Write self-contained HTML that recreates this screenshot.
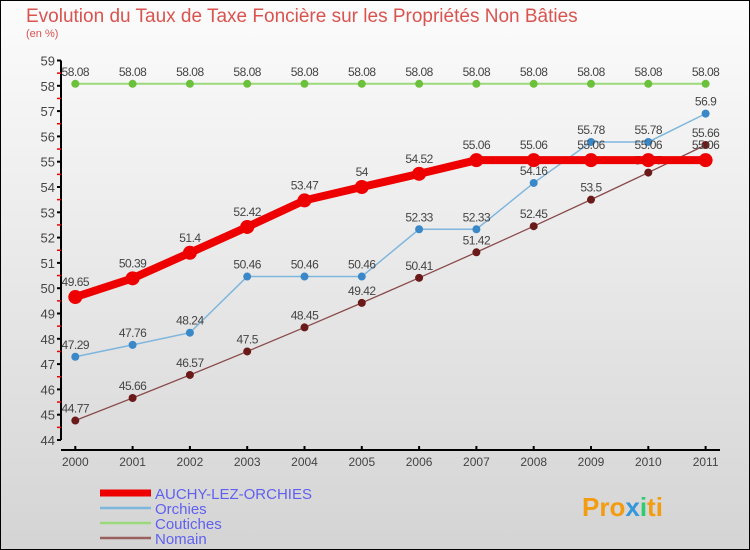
<!DOCTYPE html>
<html><head><meta charset="utf-8"><style>
body{margin:0;width:750px;height:550px;overflow:hidden}
svg{display:block;font-family:"Liberation Sans",sans-serif}
</style></head><body>
<svg id="c" width="750" height="550" xmlns="http://www.w3.org/2000/svg">
<defs><linearGradient id="bg" x1="0" y1="0" x2="0" y2="1"><stop offset="0" stop-color="#fcfcfc"/><stop offset="1" stop-color="#d4d4d4"/></linearGradient></defs>
<rect x="0.5" y="0.5" width="749" height="549" fill="url(#bg)" stroke="#000"/>
<text x="26" y="22" font-size="19" fill="#d9534f">Evolution du Taux de Taxe Foncière sur les Propriétés Non Bâties</text>
<text x="26" y="37" font-size="11" fill="#d9534f">(en %)</text>
<g id="axes"></g><g id="series"></g><g id="legend"></g>
<text x="582" y="516" font-size="26" font-weight="bold" fill="#f39c12">Pro<tspan fill="#3498db">x</tspan><tspan fill="#2ecc71">i</tspan>ti</text>
</svg>
<script>
const years=[2000,2001,2002,2003,2004,2005,2006,2007,2008,2009,2010,2011];
const auchy=[49.65,50.39,51.4,52.42,53.47,54,54.52,55.06,55.06,55.06,55.06,55.06];
const orchies=[47.29,47.76,48.24,50.46,50.46,50.46,52.33,52.33,54.16,55.78,55.78,56.9];
const coutiches=[58.08,58.08,58.08,58.08,58.08,58.08,58.08,58.08,58.08,58.08,58.08,58.08];
const nomain=[44.77,45.66,46.57,47.5,48.45,49.42,50.41,51.42,52.45,53.5,54.57,55.66];
const yTicks=[44,45,46,47,48,49,50,51,52,53,54,55,56,57,58,59];
const NS="http://www.w3.org/2000/svg";
const X=i=>75.3+i*57.3;
const Y=v=>440-(v-44)*25.3;
function mk(t,a,p){const e=document.createElementNS(NS,t);for(const k in a)e.setAttribute(k,a[k]);p.appendChild(e);return e;}
const ax=document.getElementById('axes');
let l=mk('line',{x1:61,y1:Y(59),x2:61,y2:Y(44),stroke:'#000','stroke-width':2},ax);


yTicks.forEach(v=>{
  mk('line',{x1:57,y1:Y(v),x2:61,y2:Y(v),stroke:'#000','stroke-width':2},ax);
  if(v<59)mk('line',{x1:57,y1:Y(v+0.5),x2:61,y2:Y(v+0.5),stroke:'#e00','stroke-width':1.5},ax);
  const t=mk('text',{x:55,y:Y(v)+5,'font-size':13,fill:'#444','text-anchor':'end'},ax);
  t.textContent=v;
  
  
});
l=mk('line',{x1:61,y1:450,x2:720,y2:450,stroke:'#000','stroke-width':2},ax);


years.forEach((yr,i)=>{
  mk('line',{x1:X(i),y1:446,x2:X(i),y2:450,stroke:'#000','stroke-width':2},ax);
  const t=mk('text',{x:X(i),y:466,'font-size':12,fill:'#444','text-anchor':'middle'},ax);
  t.textContent=yr;
  
  
});
const sg=document.getElementById('series');
function series(name,data,color,w,r,dot){
  const g=mk('g',{},sg);
  
  
  mk('polyline',{points:data.map((v,i)=>X(i)+','+Y(v)).join(' '),fill:'none',stroke:color,'stroke-width':w},g);
  data.forEach((v,i)=>{
    const c=mk('circle',{cx:X(i),cy:Y(v),r:r,fill:dot},g);
    
    
    const t=mk('text',{x:X(i),y:Y(v)-r-4,'font-size':12,fill:'#444','text-anchor':'middle','letter-spacing':'-0.5'},g);
    t.textContent=v;
    
    
  });
}
series('coutiches',coutiches,'#9cd97a',2,4,'#6cc13c');
series('nomain',nomain,'#8a4a4a',1.3,4,'#6b1a1a');
series('orchies',orchies,'#7fb6dd',1.5,4,'#3a88c8');
series('auchy',auchy,'#ee0000',8,7,'#ee0000');
const lg=document.getElementById('legend');
const names=['AUCHY-LEZ-ORCHIES','Orchies','Coutiches','Nomain'];
const cols=['#ee0000','#7fb6dd','#9cd97a','#9a6060'];
const ws=[7,2.5,2.5,2.5];
names.forEach((n,i)=>{
  const y=492+i*15;
  const g=mk('g',{},lg);
  
  
  mk('line',{x1:100,y1:y+1,x2:151,y2:y+1,stroke:cols[i],'stroke-width':ws[i]},g);
  const t=mk('text',{x:155,y:y+7,'font-size':15,fill:'#6060f0'},g);
  t.textContent=n;
});
</script>
</body></html>
